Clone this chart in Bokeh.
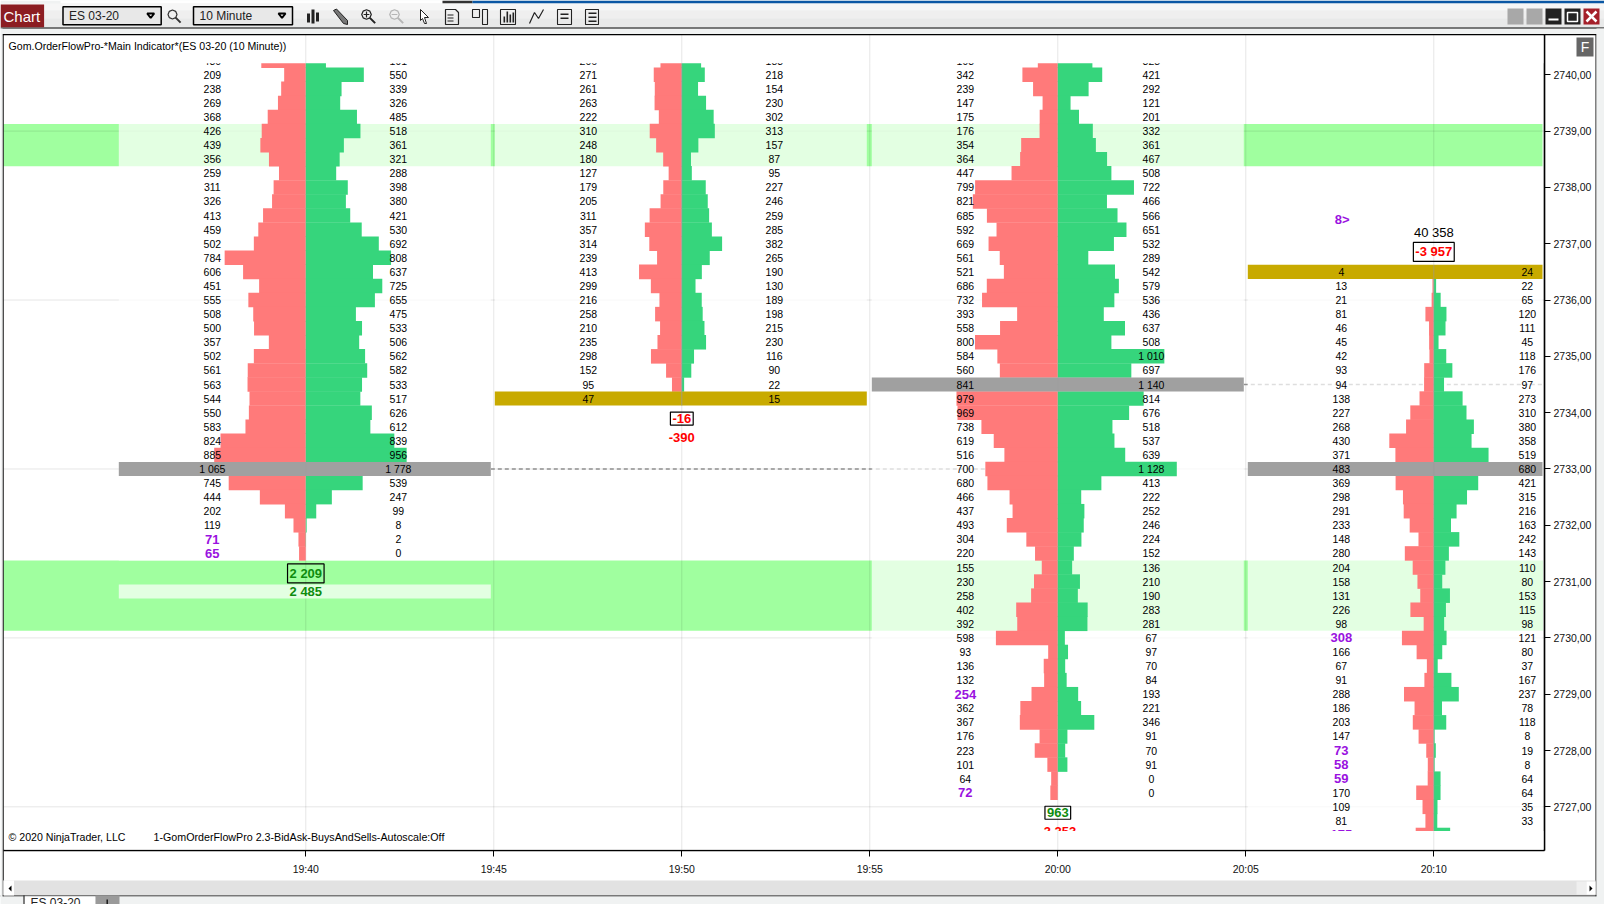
from bokeh.plotting import figure
from bokeh.models import (ColumnDataSource, FixedTicker, Label, BoxAnnotation, PolyAnnotation)
from bokeh.core.properties import value
from bokeh.embed import file_html
from bokeh.resources import INLINE

# ---------- data ----------
bars_bid_1 = [430,209,238,269,368,426,439,356,259,311,326,413,459,502,784,606,451,555,508,500,357,502,561,563,544,550,583,824,885,1065,745,444,202,119,71,65]
bars_ask_1 = [191,550,339,326,485,518,361,321,288,398,380,421,530,692,808,637,725,655,475,533,506,562,582,533,517,626,612,839,956,1778,539,247,99,8,2,0]
bars_bid_2 = [206,271,261,263,222,310,248,180,127,179,205,311,357,314,239,413,299,216,258,210,235,298,152,95,47]
bars_ask_2 = [183,218,154,230,302,313,157,87,95,227,246,259,285,382,265,190,130,189,198,215,230,116,90,22,15]
bars_bid_3 = [193,342,239,147,175,176,354,364,447,799,821,685,592,669,561,521,686,732,393,558,800,584,560,841,979,969,738,619,516,700,680,466,437,493,304,220,155,230,258,402,392,598,93,136,132,254,362,367,176,223,101,64,72]
bars_ask_3 = [328,421,292,121,201,332,361,467,508,722,466,566,651,532,289,542,579,536,436,637,508,1010,697,1140,814,676,518,537,639,1128,413,222,252,246,224,152,136,210,190,283,281,67,97,70,84,193,221,346,91,70,91,0,0]
bars_bid_4 = [4,13,21,81,46,45,42,93,94,138,227,268,430,371,483,369,298,291,233,148,280,204,158,131,226,98,308,166,67,91,288,186,203,147,73,58,59,170,109,81,175]
bars_ask_4 = [24,22,65,120,111,45,118,176,97,273,310,380,358,519,680,421,315,216,163,242,143,110,80,153,115,98,121,80,37,167,237,78,118,8,19,8,64,64,35,33,155]

col_minutes = [0, 10, 20, 30]
col_first_price = [2740.25, 2740.25, 2740.25, 2736.5]
col_bids = [bars_bid_1, bars_bid_2, bars_bid_3, bars_bid_4]
col_asks = [bars_ask_1, bars_ask_2, bars_ask_3, bars_ask_4]
col_poc_price = [2733.0, None, 2734.5, 2733.0]
col_close_price = [None, 2734.25, None, 2736.5]
col_purple = [[2731.75, 2731.5], [], [2729.0, 2727.25], [2730.0, 2728.0, 2727.75, 2727.5, 2726.5]]
zones = [(2739.125, 2738.375), (2731.375, 2730.125)]
price_ticks = [2727, 2728, 2729, 2730, 2731, 2732, 2733, 2734, 2735, 2736, 2737, 2738, 2739, 2740]
price_labels = ["2727,00", "2728,00", "2729,00", "2730,00", "2731,00", "2732,00", "2733,00", "2734,00", "2735,00", "2736,00", "2737,00", "2738,00", "2739,00", "2740,00"]
time_ticks = [0, 5, 10, 15, 20, 25, 30]
time_labels = ["19:40", "19:45", "19:50", "19:55", "20:00", "20:05", "20:10"]
title_text = "Gom.OrderFlowPro-*Main Indicator*(ES 03-20 (10 Minute))"

# ---------- styles / layout ----------
RED, GREEN, GREY, GOLD, ZONE = "#ff7a7a", "#36d57c", "#a0a0a0", "#c8aa00", "#a0ff9f"
PURPLE, DGREEN = "#9a12e0", "#0e8c0e"
FONT = value("Liberation Sans")
PX_MIN, PX_PT = 37.6, 56.31         # pixels per minute / per point
X0, Y0 = 305.3, 74.3                # page pixel of 19:40 / of 2740
F_L, F_R, F_T, F_B = 3, 1544, 34, 850  # plot area in page pixels
W, H_PAGE = 1604, 904

def xd(px): return (px - X0) / PX_MIN
def yd(py): return 2740 - (py - Y0) / PX_PT

# the frame fills the whole page; the two axes are pinned where the plot area ends
p = figure(width=W, height=H_PAGE, output_backend="svg", toolbar_location=None,
           x_range=(xd(0), xd(W)), y_range=(yd(H_PAGE), yd(0)),
           y_axis_location="right", x_axis_location="below",
           min_border=0, background_fill_color="white", border_fill_color="white", outline_line_color=None)
p.grid.visible = False

for ax, ticks, labs in ((p.yaxis[0], price_ticks, price_labels), (p.xaxis[0], time_ticks, time_labels)):
    ax.ticker = FixedTicker(ticks=ticks)
    ax.major_label_overrides = dict(zip(ticks, labs))
    ax.major_tick_line_color = "black"
    ax.major_tick_out = 6
    ax.major_tick_in = 0
    ax.minor_tick_line_color = None
    ax.axis_line_color = "black"
    ax.axis_line_width = 1.5
    ax.major_label_text_font = "Liberation Sans"
    ax.major_label_text_font_size = "10.5px"
    ax.major_label_text_color = "#111111"
p.yaxis[0].major_label_standoff = 3
p.xaxis[0].major_label_standoff = 6
p.yaxis[0].fixed_location = xd(F_R)
p.xaxis[0].fixed_location = yd(F_B)
p.yaxis[0].bounds = (yd(F_B), yd(F_T))
p.xaxis[0].bounds = (xd(F_L), xd(F_R))

# zones, then grid above them
p.quad(left=[xd(F_L)] * 2, right=[xd(1542)] * 2, top=[z[0] for z in zones], bottom=[z[1] for z in zones],
       fill_color=ZONE, line_color=None, level="image")
p.segment(x0=time_ticks, x1=time_ticks, y0=[yd(F_B)] * 7, y1=[yd(F_T)] * 7, line_color="black", line_alpha=0.1, level="underlay")
hgrid = price_ticks[::3]
p.segment(x0=[xd(F_L)] * len(hgrid), x1=[xd(F_R)] * len(hgrid), y0=hgrid, y1=hgrid, line_color="black", line_alpha=0.1, level="underlay")

H = 0.125
H_BAR = 0.129             # rows overlap a hair so no seam shows between them
col_dx = [-1, -1, 0, 0]   # pixels
c_left, c_right = [], []
for cx, dx in zip(col_minutes, col_dx):
    c_left.append(cx + (dx - 186) / PX_MIN)
    c_right.append(min(cx + (dx + 186) / PX_MIN, xd(1542)))

# extended POC dashes
p.segment(x0=[c_right[0], c_right[2]], x1=[col_minutes[2], xd(1542)], y0=[col_poc_price[0], col_poc_price[2]],
          y1=[col_poc_price[0], col_poc_price[2]], line_color="#909090", line_width=1.6, line_dash="4 3", level="underlay")

K_BID, K_ASK = 0.1035 / PX_MIN, 0.1055 / PX_MIN
center_alpha = [0.15, 0.75, 0.15, 0.6]
for i, cx in enumerate(col_minutes):
    bids, asks = col_bids[i], col_asks[i]
    prices = [col_first_price[i] - 0.25 * n for n in range(len(bids))]
    hidden = [col_poc_price[i], col_close_price[i]]
    dx = col_dx[i]
    p.quad(left=[c_left[i]], right=[c_right[i]], top=[prices[0] + H], bottom=[prices[-1] - H],
           fill_color="white", fill_alpha=0.7, line_color=None)
    src = ColumnDataSource(dict(
        price=prices, top=[q + H_BAR for q in prices], bot=[q - H_BAR for q in prices],
        bl=[cx if q in hidden else cx - b * K_BID for q, b in zip(prices, bids)],
        ar=[cx if q in hidden else cx + a * K_ASK for q, a in zip(prices, asks)], c=[cx] * len(bids),
        xb=[cx + (dx - 92.5) / PX_MIN] * len(bids), xa=[cx + (dx + 93.5) / PX_MIN] * len(bids),
        tb=[f"{b:,}".replace(",", " ") for b in bids], ta=[f"{a:,}".replace(",", " ") for a in asks],
        col=[PURPLE if q in col_purple[i] else "black" for q in prices],
        sz=["13px" if q in col_purple[i] else "10.5px" for q in prices],
        st=["bold" if q in col_purple[i] else "normal" for q in prices]))
    p.quad(left="bl", right="c", top="top", bottom="bot", source=src, fill_color=RED, line_color=None)
    p.quad(left="c", right="ar", top="top", bottom="bot", source=src, fill_color=GREEN, line_color=None)
    if col_poc_price[i] is not None:
        q = col_poc_price[i]
        p.quad(left=[c_left[i]], right=[c_right[i]], top=[q + H], bottom=[q - H], fill_color=GREY, line_color=None)
    if col_close_price[i] is not None:
        q = col_close_price[i]
        p.quad(left=[c_left[i]], right=[c_right[i]], top=[q + H], bottom=[q - H], fill_color=GOLD, line_color=None)
    p.segment(x0=[cx], x1=[cx], y0=[prices[0] + H], y1=[prices[-1] - H], line_color="#999999",
              line_alpha=center_alpha[i], line_width=1)
    p.text(x="xb", y="price", text="tb", source=src, text_align="center", text_baseline="middle",
           text_font=FONT, text_font_size="sz", text_color="col", text_font_style="st")
    p.text(x="xa", y="price", text="ta", source=src, text_align="center", text_baseline="middle",
           text_font=FONT, text_font_size="10.5px", text_color="black")

# band behind the second total of the first column
p.quad(left=[c_left[0]], right=[c_right[0]], top=[yd(584)], bottom=[yd(598)], fill_color="white", fill_alpha=0.7, line_color=None)

def total(col, price, off, text, color, boxed=False, size="13px", style="bold"):
    kw = dict(border_line_color="black", border_line_width=1.2, padding=2) if boxed else {}
    p.add_layout(Label(x=col_minutes[col], y=price, x_units="data", y_units="data", y_offset=off, text=text,
                       text_align="center", text_baseline="middle", text_font="Liberation Sans",
                       text_font_size=size, text_font_style=style, text_color=color, **kw))

total(0, 2731.5, -20, "2 209", DGREEN, True)
total(0, 2731.5, -38, "2 485", DGREEN)
total(1, 2734.25, -20, "-16", "#ff0000", True)
total(1, 2734.25, -39, "-390", "#ff0000")
total(2, 2727.25, -20, "963", DGREEN, True)
total(2, 2727.25, -39, "-3 253", "#ff0000")
total(3, 2736.5, 20, "-3 957", "#ff0000", True)
total(3, 2736.5, 39, "40 358", "black", False, "13px", "normal")

# ---------- chrome, in canvas pixels ----------
def box(x0, y0, x1, y1, color, alpha=1.0):
    p.add_layout(BoxAnnotation(left=x0, right=x1, top=y0, bottom=y1, left_units="canvas", right_units="canvas",
                               top_units="canvas", bottom_units="canvas", fill_color=color,
                               fill_alpha=alpha, line_alpha=0))

def poly(pts, fill=None, line=None, w=1.5):
    p.add_layout(PolyAnnotation(xs=[a for a, _ in pts], ys=[b for _, b in pts], xs_units="canvas", ys_units="canvas",
                                fill_color=fill or "white", fill_alpha=1 if fill else 0,
                                line_color=line or "black", line_alpha=1 if line else 0, line_width=w))

def lab(px, py, text, color="black", size="10.5px", style="normal", align="left"):
    p.add_layout(Label(x=px, y=py, x_units="canvas", y_units="canvas", text=text, text_color=color,
                       text_font="Liberation Sans", text_font_size=size, text_font_style=style,
                       text_align=align, text_baseline="middle"))

# hide rows running past the indicator's clip, keep grid on top of it
box(4, 35, 1543, 62.7, "white")
box(4, 830.6, 1543, 849, "white")
p.segment(x0=time_ticks, x1=time_ticks, y0=[yd(35)] * 7, y1=[yd(62.7)] * 7, line_color="black", line_alpha=0.1, level="overlay")
p.segment(x0=time_ticks, x1=time_ticks, y0=[yd(830.6)] * 7, y1=[yd(849)] * 7, line_color="black", line_alpha=0.1, level="overlay")

lab(1341.7, 219, "8>", PURPLE, "13px", "bold", "center")
lab(8, 45, title_text, size="10.6px")
lab(8, 836, "\u00a9 2020 NinjaTrader, LLC", size="10.6px")
lab(153, 836, "1-GomOrderFlowPro 2.3-BidAsk-BuysAndSells-Autoscale:Off", size="10.7px")

# window bands
box(0, 0, W, 34, "#f0f2f2")
box(60, 0, 442, 3, "white"); box(442, 0, 472, 3, "#333333"); box(472, 0, W, 3, "#0b57a4")
box(0, 3, W, 10, "#f6f6f6"); box(0, 10, W, 18, "#efefef"); box(0, 18, W, 27, "#e8e9e9")
box(0, 27, W, 28, "black")
box(2, 33.5, 1596, 34.8, "black")
box(2, 34, 3.2, 896, "black")
box(1595, 34, 1596, 896, "black")
box(1596, 28, W, 904, "#f0f2f2")
box(1543.4, 34, 1544.6, 850, "black")
box(3, 880, 1595, 895, "#e2e2e2"); box(0, 895, 1596, 896, "black")
box(0, 896, W, 904, "#f0f2f2"); box(0, 28, 2, 904, "#f0f2f2")
box(3, 880, 13.5, 895, "white")
poly([(11, 885), (11, 891), (8, 888)], "black")
box(1576, 881, 1586, 894, "#efefef"); box(1586, 881, 1595, 894, "white")
poly([(1589, 885), (1589, 891), (1592, 888)], "black")
# tab strip
box(23, 896, 95, 904, "white"); box(23, 895, 24, 904, "black"); box(95, 895, 119, 904, "#9a9a9a")
lab(30, 902, "ES 03-20", "#222222", "12px")
box(106, 899, 107.4, 904, "#111111")

# chart tab and selectors
box(0, 4, 43.6, 26.7, "#8c1d22")
lab(3, 15.5, "Chart", "white", "15px")
for a, b, t in ((62.5, 160.7, "ES 03-20"), (193, 292, "10 Minute")):
    box(a, 6.3, b, 24.3, "#e8e8e8")
    poly([(a, 6.3), (b, 6.3), (b, 24.3), (a, 24.3)], None, "black", 1.5)
    lab(a + 6, 15.5, t, "#222222", "12px")
    poly([(b - 14, 13), (b - 10.5, 17.5), (b - 7, 13)], None, "black", 2)

def magnifier(cx, cy, r, color, plus=None):
    poly([(cx - r, cy), (cx - .7 * r, cy - .7 * r), (cx, cy - r), (cx + .7 * r, cy - .7 * r), (cx + r, cy),
          (cx + .7 * r, cy + .7 * r), (cx, cy + r), (cx - .7 * r, cy + .7 * r)], None, color, 1.2)
    poly([(cx + .7 * r, cy + .7 * r), (cx + 1.8 * r, cy + 1.8 * r), (cx + .7 * r, cy + .7 * r)], None, color, 2)
    if plus is not None:
        box(cx - r * .6, cy - .6, cx + r * .6, cy + .6, color)
        if plus:
            box(cx - .6, cy - r * .6, cx + .6, cy + r * .6, color)

magnifier(172, 14, 4.5, "#333333")
for a, b, c in ((308, 13, 22), (312.5, 9, 23), (317, 12, 21)):
    box(a - 1.5, b, a + 1.5, c, "#222222")
poly([(333, 10), (336, 8.5), (347, 20), (347, 24), (343, 23)], "#777777", "#222222", 1)
magnifier(366, 14, 4.8, "#222222", True)
magnifier(394, 14, 4.8, "#b5b5b5", False)
poly([(420, 9), (428, 17), (424, 17), (426, 23), (424, 23), (422, 18), (420, 20)], "white", "#222222", 1)
poly([(445, 9), (455, 9), (458, 12), (458, 24), (445, 24)], None, "#222222", 1.2)
box(447, 14, 453, 15, "#222222"); box(447, 17, 453, 18, "#222222"); box(447, 20, 453, 21, "#222222")
poly([(472, 9), (479, 9), (479, 17), (472, 17)], None, "#222222", 1.1)
poly([(482, 9), (487, 9), (487, 24), (482, 24)], None, "#222222", 1.1)
poly([(500, 9), (500, 24), (515, 24), (515, 9)], None, "#222222", 1.1)
for a, b in ((503, 16), (506, 11), (509, 14), (512, 12)):
    box(a, b, a + 1.6, 22, "#222222")
poly([(529, 23), (534, 12), (538, 18), (543, 9), (538, 18), (534, 12)], None, "#222222", 1.2)
poly([(557, 9), (571, 9), (571, 24), (557, 24)], None, "#222222", 1.1)
box(560, 13, 568, 14.4, "#222222"); box(560, 17, 568, 18.4, "#222222")
poly([(585, 9), (598, 9), (598, 24), (585, 24)], None, "#222222", 1.1)
box(588, 12, 596, 13.4, "#222222"); box(588, 16, 596, 17.4, "#222222"); box(588, 20, 596, 21.4, "#222222")

for a, c in ((1507, "#a8a8a8"), (1526, "#a8a8a8"), (1545, "#222222"), (1564, "#222222"), (1583, "#a5202a")):
    box(a, 8, a + 16, 24, c)
box(1548, 18, 1558, 20, "white")
poly([(1567, 12), (1577, 12), (1577, 21), (1567, 21)], None, "white", 1.5)
poly([(1586, 11), (1596, 21), (1591, 16)], None, "white", 2.5)
poly([(1596, 11), (1586, 21), (1591, 16)], None, "white", 2.5)
box(1576, 37, 1593, 56, "#666666")
lab(1584.5, 46.5, "F", "white", "14px", "normal", "center")

open("out.html", "w").write(file_html(p, INLINE))
